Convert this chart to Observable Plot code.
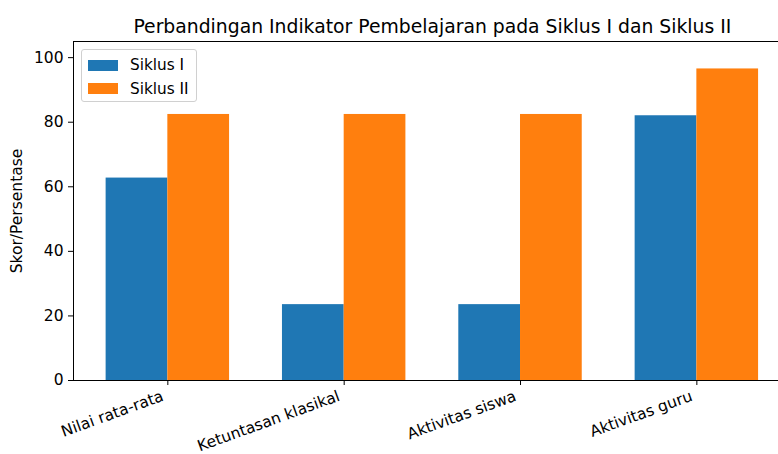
<!DOCTYPE html>
<html><head><meta charset="utf-8">
<script src="https://cdn.jsdelivr.net/npm/d3@7"></script>
<script src="https://cdn.jsdelivr.net/npm/@observablehq/plot@0.6"></script>
<style>
body{margin:0;background:#fff;font-family:"DejaVu Sans",sans-serif;}
#wrap{position:relative;width:778px;height:454px;}
.legend{position:absolute;left:81px;top:49px;width:116px;height:53px;border:1px solid #d0d0d0;border-radius:3px;background:rgba(255,255,255,0.8);box-sizing:border-box;font-size:15.3px;color:#000;}
.legend .row{position:absolute;left:6px;display:flex;align-items:center;}
.legend .sw{width:30px;height:11px;margin-right:12px;}
</style></head>
<body><div id="wrap"></div>
<script>
const categories = ["Nilai rata-rata", "Ketuntasan klasikal", "Aktivitas siswa", "Aktivitas guru"];
const series = ["Siklus I", "Siklus II"];
const siklus1 = [62.7, 23.5, 23.5, 82.0];
const siklus2 = [82.4, 82.4, 82.4, 96.5];
const colors = ["#1f77b4", "#ff7f0e"];
const yTicks = [0, 20, 40, 60, 80, 100];
const title = "Perbandingan Indikator Pembelajaran pada Siklus I dan Siklus II";
const yLabel = "Skor/Persentase";

const barW = 0.35;
const data = [];
categories.forEach((c, i) => {
  data.push({i, series: series[0], value: siklus1[i], x1: i - barW, x2: i});
  data.push({i, series: series[1], value: siklus2[i], x1: i, x2: i + barW});
});

const FS = 15.5;
const chart = Plot.plot({
  width: 778, height: 454,
  marginLeft: 73, marginRight: 0, marginTop: 41, marginBottom: 74,
  style: {fontFamily: "DejaVu Sans, sans-serif", fontSize: FS + "px", color: "#000", background: "#fff"},
  x: {type: "linear", domain: [-0.535, 3.463]},
  y: {domain: [0, 105]},
  color: {domain: series, range: colors},
  marks: [
    Plot.rectY(data, {x1: "x1", x2: "x2", y: "value", fill: "series"}),
    Plot.axisY({ticks: yTicks, tickSize: 5, tickPadding: 5, label: null, fontSize: FS}),
    Plot.text([yLabel], {frameAnchor: "left", dx: -56, rotate: -90, fontSize: FS, textAnchor: "middle"}),
    Plot.axisX({ticks: categories.map((_, i) => i), tickSize: 5, text: null, label: null}),
    Plot.axisX({ticks: categories.map((_, i) => i), tickFormat: i => categories[i], tickSize: 0, tickPadding: 10, dx: -5, dy: 5, tickRotate: -20, label: null, fontSize: FS}),
    Plot.ruleX([-0.535], {stroke: "#000", strokeWidth: 1}),
    Plot.ruleY([0], {stroke: "#000", strokeWidth: 1}),
    Plot.ruleY([105], {stroke: "#000", strokeWidth: 1}),
    Plot.text([title], {x: (-0.535 + 3.535) / 2, frameAnchor: "top", dy: -22, fontSize: 18.8, textAnchor: "middle"})
  ]
});
const wrap = document.getElementById("wrap");
wrap.appendChild(chart);
const lg = document.createElement("div");
lg.className = "legend";
series.forEach((s, k) => {
  const row = document.createElement("div");
  row.className = "row";
  row.style.top = (6 + k * 23.5) + "px";
  row.innerHTML = `<span class="sw" style="background:${colors[k]}"></span><span>${s}</span>`;
  lg.appendChild(row);
});
wrap.appendChild(lg);
</script></body></html>
